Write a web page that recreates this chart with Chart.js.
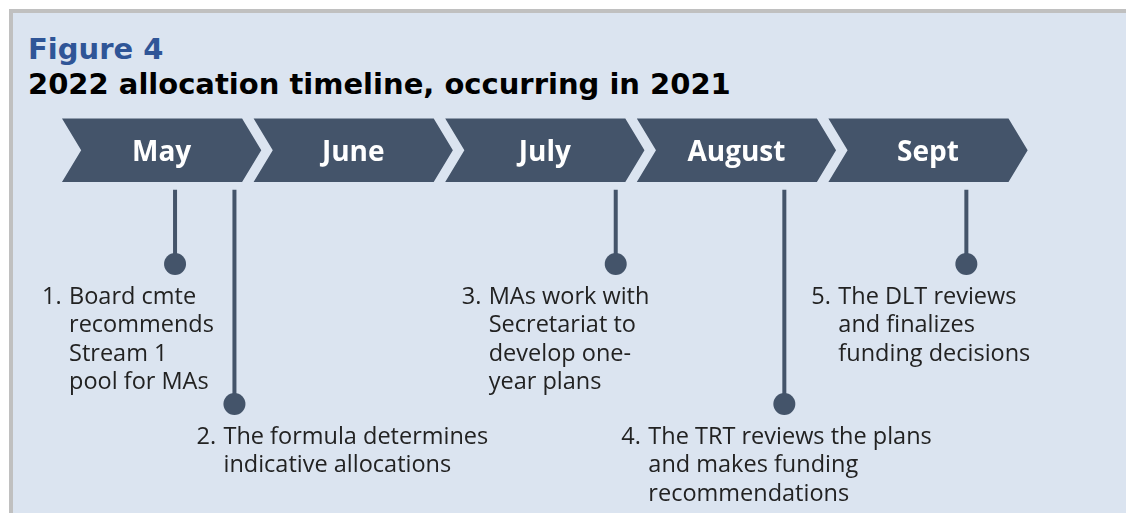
<!DOCTYPE html>
<html>
<head>
<meta charset="utf-8">
<script src="https://cdn.jsdelivr.net/npm/chart.js@4.4.0/dist/chart.umd.min.js"></script>
<style>
  html, body { margin: 0; padding: 0; background: #fff; }
  #wrap { position: relative; width: 1126px; height: 513px; overflow: hidden; }
  #panel {
    position: absolute; left: 9px; top: 9px; right: 0; bottom: 0;
    background: #dbe4f0;
    border-left: 4px solid #c0c0c0; border-top: 4px solid #c0c0c0;
  }
  .ttl {
    position: absolute; left: 28px; margin: 0;
    font-family: "DejaVu Sans", Verdana, sans-serif; font-weight: bold;
    font-size: 29px; line-height: 29px; white-space: nowrap;
  }
  #fig { top: 35px; color: #2f5597; }
  #sub { top: 70px; color: #000; }
  #timeline { position: absolute; left: 0; top: 0; }
</style>
</head>
<body>
<div id="wrap">
  <div id="panel"></div>
  <div class="ttl" id="fig">Figure 4</div>
  <div class="ttl" id="sub">2022 allocation timeline, occurring in 2021</div>
  <canvas id="timeline" width="1126" height="513"></canvas>
</div>
<script>
// timeline data
const months = ['May', 'June', 'July', 'August', 'Sept'];
// where each step falls on the month axis (0 = start of May) and which row its dot sits on
const eventPos = [0.59, 0.90, 2.89, 3.77, 4.72];
const eventRow = [1, 2, 1, 2, 1];
const eventNum = ['1.', '2.', '3.', '4.', '5.'];
const eventText = [
  ['Board cmte', 'recommends', 'Stream 1', 'pool for MAs'],
  ['The formula determines', 'indicative allocations'],
  ['MAs work with', 'Secretariat to', 'develop one-', 'year plans'],
  ['The TRT reviews the plans', 'and makes funding', 'recommendations'],
  ['The DLT reviews', 'and finalizes', 'funding decisions']
];

// layout bits (row units on y, month units on x)
const band = [-0.04, 0.414];     // arrow band top / bottom
const stemTop = 0.47;            // stems start just under the arrows
const textShift = [-133, -38, -154, -163, -155]; // text block left edge vs dot, px
const slate = '#44546a';

// stems: one small line dataset each
const stemSets = eventPos.map((p, i) => ({
  type: 'line',
  data: [{ x: p, y: stemTop }, { x: p, y: eventRow[i] }],
  borderColor: slate,
  borderWidth: 4,
  borderCapStyle: 'butt',
  pointRadius: 0,
  order: 2
}));

const arrowsPlugin = {
  id: 'arrows',
  beforeDatasetsDraw(chart) {
    const { ctx, scales: { x, y } } = chart;
    const T = y.getPixelForValue(band[0]);
    const B = y.getPixelForValue(band[1]);
    const M = (T + B) / 2;
    ctx.save();
    months.forEach((m, i) => {
      const L = x.getPixelForValue(i);
      const notch = x.getPixelForValue(i + 0.10);
      const R = x.getPixelForValue(i + 0.94);
      const tip = x.getPixelForValue(i + 1.04);
      ctx.beginPath();
      ctx.moveTo(L, T);
      ctx.lineTo(R, T);
      ctx.lineTo(tip, M);
      ctx.lineTo(R, B);
      ctx.lineTo(L, B);
      ctx.lineTo(notch, M);
      ctx.closePath();
      ctx.fillStyle = slate;
      ctx.fill();

      ctx.fillStyle = '#fff';
      ctx.font = 'bold 28px "Open Sans", sans-serif';
      ctx.textAlign = 'center';
      ctx.textBaseline = 'middle';
      ctx.fillText(m, (L + tip) / 2, M + 3);
    });
    ctx.restore();
  },
  afterDatasetsDraw(chart) {
    const { ctx, scales: { x, y } } = chart;
    ctx.save();
    ctx.fillStyle = '#222';
    ctx.font = '23.5px "Open Sans", sans-serif';
    ctx.textAlign = 'left';
    ctx.textBaseline = 'middle';
    eventText.forEach((lines, i) => {
      const left = x.getPixelForValue(eventPos[i]) + textShift[i];
      const top = y.getPixelForValue(eventRow[i]) + 33;
      ctx.fillText(eventNum[i], left, top);
      lines.forEach((ln, k) => {
        ctx.fillText(ln, left + 27, top + k * 28.5);
      });
    });
    ctx.restore();
  }
};

new Chart(document.getElementById('timeline'), {
  type: 'scatter',
  data: {
    datasets: [
      {
        label: 'steps',
        data: eventPos.map((p, i) => ({ x: p, y: eventRow[i] })),
        backgroundColor: slate,
        borderWidth: 0,
        pointRadius: 11,
        pointHoverRadius: 11,
        order: 1
      },
      ...stemSets
    ]
  },
  options: {
    responsive: false,
    animation: false,
    layout: { padding: 0, autoPadding: false },
    plugins: {
      legend: { display: false },
      tooltip: { enabled: false }
    },
    scales: {
      x: { type: 'linear', display: false, min: -0.3236, max: 5.5532 },
      y: { type: 'linear', display: false, reverse: true, min: -0.886, max: 2.779 }
    }
  },
  plugins: [arrowsPlugin]
});
</script>
</body>
</html>
